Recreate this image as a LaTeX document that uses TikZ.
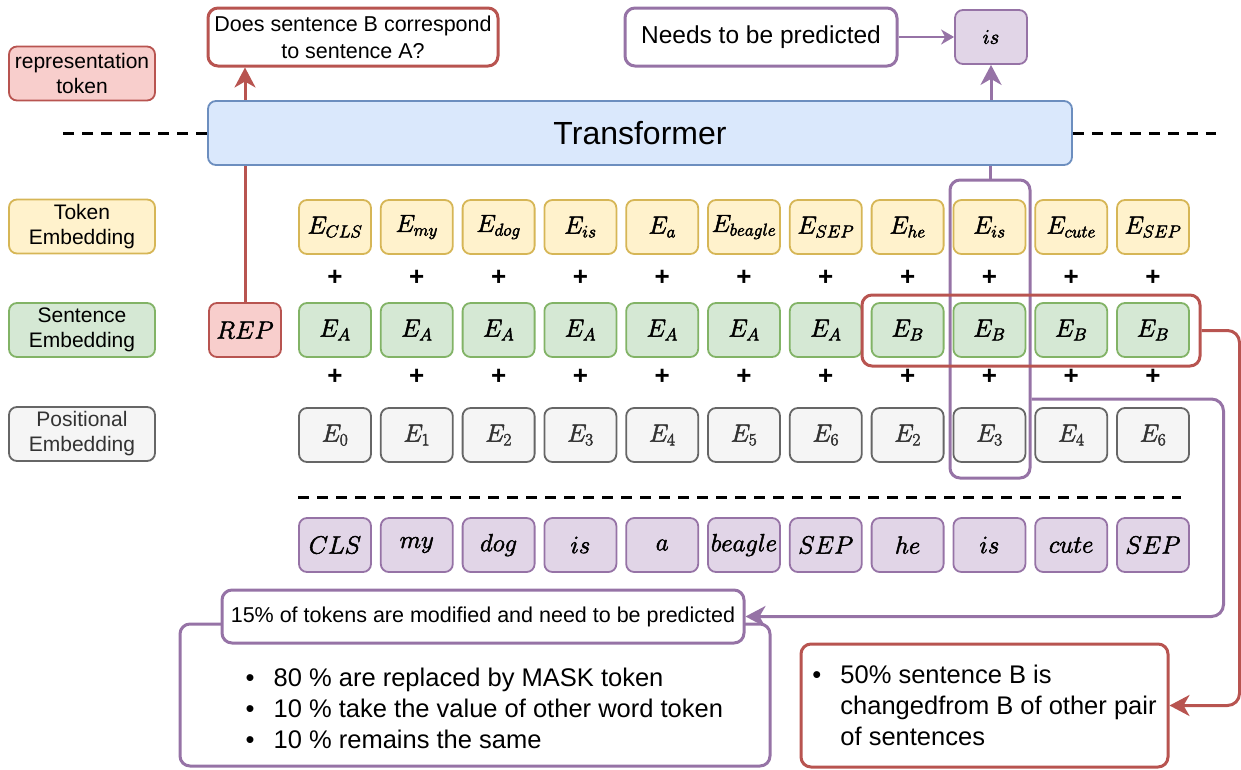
\documentclass[tikz,border=0pt]{standalone}
\usepackage{fontspec}
\setmainfont{Liberation Sans}
\usetikzlibrary{arrows.meta,calc}

\definecolor{redline}{HTML}{B85450}
\definecolor{redfill}{HTML}{F8CECC}
\definecolor{yelline}{HTML}{D6B656}
\definecolor{yelfill}{HTML}{FFF2CC}
\definecolor{grnline}{HTML}{82B366}
\definecolor{grnfill}{HTML}{D5E8D4}
\definecolor{gryline}{HTML}{666666}
\definecolor{gryfill}{HTML}{F5F5F5}
\definecolor{grytext}{HTML}{333333}
\definecolor{bluline}{HTML}{6C8EBF}
\definecolor{blufill}{HTML}{DAE8FC}
\definecolor{purline}{HTML}{9673A6}
\definecolor{purfill}{HTML}{E1D5E7}

\newcommand\sizeto[2]{\fontsize{#1}{#2}\selectfont}
% math labels set with a thin outline stroke so they read a little heavier
\newcommand\heavymath[1]{\special{pdf:literal direct 2 Tr 0.5 w}$#1$\special{pdf:literal direct 0 Tr}}

\tikzset{
  cell/.style={draw, rounded corners=8, minimum width=72, minimum height=54,
    inner sep=0, line width=1.8, font=\sizeto{25}{30}},
  tokcell/.style={cell, draw=yelline, fill=yelfill},
  sentcell/.style={cell, draw=grnline, fill=grnfill},
  poscell/.style={cell, draw=gryline, fill=gryfill, text=grytext},
  wordcell/.style={cell, draw=purline, fill=purfill, font=\sizeto{27}{32}},
  rowlabel/.style={cell, minimum width=146, align=center, font=\sizeto{21}{25}},
  plussign/.style={inner sep=0, font=\bfseries\sizeto{26}{30}},
  callout/.style={draw, fill=white, rounded corners=10, line width=3,
    inner sep=0, align=center},
  frame/.style={draw, rounded corners=10, line width=3, inner sep=0},
  sepline/.style={line width=3, dash pattern=on 11pt off 8pt},
  bigtip/.style={-{Stealth[length=20pt,width=21pt,inset=6pt]}},
  redarrow/.style={draw=redline, line width=3, bigtip},
  purarrow/.style={draw=purline, line width=3, bigtip},
}

\begin{document}
\begin{tikzpicture}[x=1pt,y=-1pt]
\useasboundingbox (0,0) rectangle (1241,769);

% row labels on the left
\node[rowlabel, draw=redline, fill=redfill] (lrep) at (82,73.5) {representation\\token};
\node[rowlabel, draw=yelline, fill=yelfill] (ltok) at (82,226.5) {Token\\Embedding};
\node[rowlabel, draw=grnline, fill=grnfill] (lsent) at (82,330) {Sentence\\Embedding};
\node[rowlabel, draw=gryline, fill=gryfill, text=grytext] (lpos) at (82,434) {Positional\\Embedding};

% outputs at the top
\node[callout, draw=redline, minimum width=290, minimum height=58,
  font=\sizeto{21.5}{27}] (does) at (353,37) {Does sentence B correspond\\to sentence A?};
\node[callout, draw=purline, minimum width=272, minimum height=58,
  font=\sizeto{24.5}{29}] (needs) at (761,37) {Needs to be predicted};
\node[cell, draw=purline, fill=purfill, font=\sizeto{22}{26}] (pred) at (991,37) {\heavymath{is}};
\draw[draw=purline, line width=2, -{Stealth[length=13pt,width=15pt,inset=4pt]}]
  (needs.east) -- (pred.west);

% representation token and its path to the NSP question
\node[cell, draw=redline, fill=redfill, font=\sizeto{27}{32}] (rep) at (245,330) {\heavymath{REP}};
\draw[redarrow] (rep.north) -- (rep.north |- does.south);

% transformer block
\node[cell, draw=bluline, fill=blufill, minimum width=864, minimum height=64,
  font=\sizeto{32}{38}] (trans) at (640,133) {Transformer};
\draw[sepline] (trans.west) -- ++(-146,0);
\draw[sepline] (trans.east) -- ++(143,0);

% embedding rows and input words
\foreach \w [count=\i] in {CLS,my,dog,is,a,beagle,SEP,he,is,cute,SEP}{
  \pgfmathsetmacro\cx{335+81.8*(\i-1)}
  \node[tokcell] (t\i) at (\cx,227) {\heavymath{E_{\w}}};
  \node[plussign] (pa\i) at (\cx,278) {+};
  \node[plussign] (pb\i) at (\cx,377) {+};
  \node[wordcell] (w\i) at (\cx,545) {\heavymath{\w}};
}
\foreach \s [count=\i] in {A,A,A,A,A,A,A,B,B,B,B}
  \node[sentcell] (s\i) at ({335+81.8*(\i-1)},330) {\heavymath{E_{\s}}};
\foreach \p [count=\i] in {0,1,2,3,4,5,6,2,3,4,6}
  \node[poscell] (p\i) at ({335+81.8*(\i-1)},435) {\heavymath{E_{\p}}};

\draw[sepline] ($(w1.north west)+(0,-20)$) -- ($(w11.north east)+(-9,-20)$);

% highlighted column (masked token) and sentence B group
\node[frame, draw=purline, minimum width=80, minimum height=298] (pcol) at (990,329) {};
\draw[draw=purline, line width=3] (pcol.north) -- (pcol.north |- trans.south);
\draw[purarrow] (pred.south |- trans.north) -- (pred.south);
\node[frame, draw=redline, minimum width=338, minimum height=71] (bsel) at (1031,330.5) {};

% masked language model notes
\node[frame, draw=purline, minimum width=590, minimum height=142] (mlmbox) at (475,695) {};
\node[anchor=west, align=left, inner sep=0, font=\sizeto{25.5}{31}] (mlmtext)
  at ($(mlmbox.west)+(67,13)$)
  {\makebox[28pt][l]{\textbullet}80 \% are replaced by MASK token\\
   \makebox[28pt][l]{\textbullet}10 \% take the value of other word token\\
   \makebox[28pt][l]{\textbullet}10 \% remains the same};
\node[callout, draw=purline, minimum width=522, minimum height=53,
  font=\sizeto{21.5}{25}] (mlmhead) at (483,616.5)
  {15\% of tokens are modified and need to be predicted};

% next sentence prediction note
\node[frame, draw=redline, fill=white, minimum width=367, minimum height=123,
  align=left, font=\sizeto{25.5}{31}] (nspbox) at (984.5,705.5)
  {\makebox[28pt][l]{\textbullet}50\% sentence B is\\
   \hspace*{28pt}changedfrom B of other pair\\
   \hspace*{28pt}of sentences};

% connectors to the notes
\draw[redarrow, rounded corners=12] (bsel.east) -- ++(38,0) |- (nspbox.east);
\draw[purarrow, rounded corners=12] ([yshift=-70pt]pcol.east) -- ++(192,0) |- (mlmhead.east);
\end{tikzpicture}
\end{document}
